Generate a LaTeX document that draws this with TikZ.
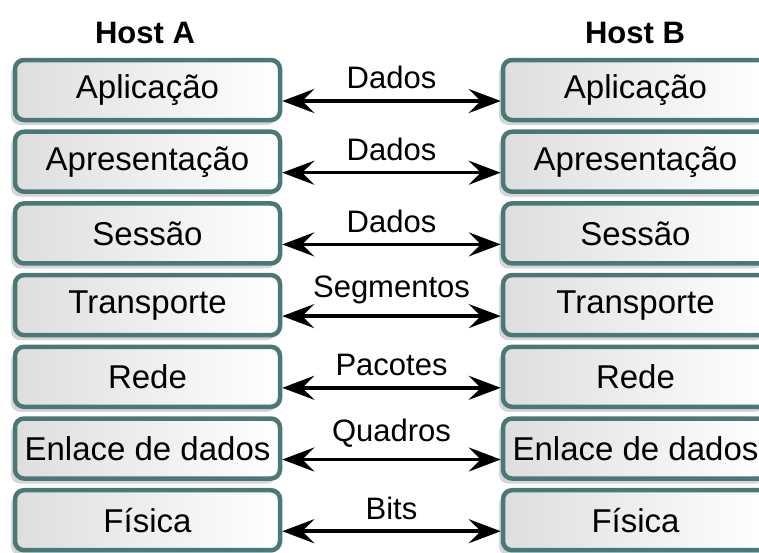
\documentclass[tikz,border=0pt]{standalone}
\usepackage{fontspec}
\setmainfont{Liberation Sans}
\usetikzlibrary{arrows.meta, shadows}

\definecolor{layerrim}{RGB}{74,120,118}

\tikzset{
  layer/.style={draw=layerrim, line width=4.5pt, rounded corners=9pt,
    minimum width=265pt, minimum height=60pt, inner sep=0pt,
    left color=black!13, right color=white,
    drop shadow={shadow xshift=-4pt, shadow yshift=-5pt, fill=black!16, opacity=1},
    font=\fontsize{33}{37}\selectfont},
  host/.style={font=\fontsize{31}{35}\selectfont\bfseries},
  pdu/.style={font=\fontsize{31}{35}\selectfont, inner sep=1pt},
  link/.style={line width=3.5pt, {Stealth[length=32pt, width=24pt, inset=12pt]}-{Stealth[length=32pt, width=24pt, inset=12pt]}},
}

\begin{document}
\begin{tikzpicture}[x=1pt, y=-1pt]%
  \fill[white] (0,0) rectangle (759,552);
  \useasboundingbox (0,0) rectangle (759,552);
  \node[host] (hostA) at (145,33) {Host A};
  \node[host] (hostB) at (635,33) {Host B};
  \foreach \lay/\pdu [count=\i from 0] in {Aplicação/Dados, Apresentação/Dados,
      Sessão/Dados, Transporte/Segmentos, Rede/Pacotes,
      Enlace de dados/Quadros, Física/Bits} {
    \node[layer] (a\i) at (147.5,{90+71.7*\i}) {\lay};
    \node[layer] (b\i) at (635.5,{90+71.7*\i}) {\lay};
    \draw[link] ([yshift=-11pt]a\i.east) -- node[pdu, above=9pt] {\pdu} ([yshift=-11pt]b\i.west);
  }
\end{tikzpicture}
\end{document}
